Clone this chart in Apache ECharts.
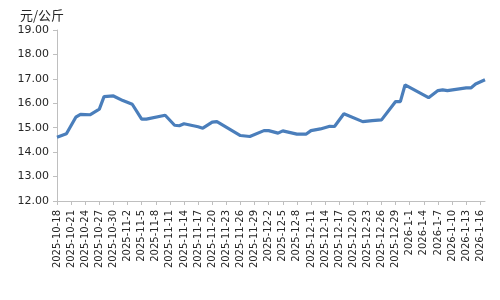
<!DOCTYPE html>
<html>
<head>
<meta charset="utf-8">
<script src="https://cdn.jsdelivr.net/npm/echarts@6/dist/echarts.min.js"></script>
<style>
  html, body { margin: 0; padding: 0; background: #fff; }
  #chart { width: 500px; height: 300px; }
</style>
</head>
<body>
<div id="chart"></div>
<script>
// every day from 2025-10-18 to 2026-1-17, label on every third day
const startDay = new Date(2025, 9, 18);
const dayCount = 92;
const days = [];
for (let i = 0; i < dayCount; i++) {
  const d = new Date(startDay.getFullYear(), startDay.getMonth(), startDay.getDate() + i);
  days.push(d.getFullYear() + "-" + (d.getMonth() + 1) + "-" + d.getDate());
}

// dates that have a price, and the price (元/公斤)
const priceDates = [
  "2025-10-18", "2025-10-20", "2025-10-22", "2025-10-23", "2025-10-25",
  "2025-10-27", "2025-10-28", "2025-10-30", "2025-11-1", "2025-11-3",
  "2025-11-5", "2025-11-6", "2025-11-10", "2025-11-12", "2025-11-13",
  "2025-11-14", "2025-11-17", "2025-11-18", "2025-11-20", "2025-11-21",
  "2025-11-26", "2025-11-28", "2025-12-1", "2025-12-2", "2025-12-4",
  "2025-12-5", "2025-12-8", "2025-12-10", "2025-12-11", "2025-12-13",
  "2025-12-15", "2025-12-16", "2025-12-18", "2025-12-22", "2025-12-24",
  "2025-12-26", "2025-12-29", "2025-12-30", "2025-12-31", "2026-1-5",
  "2026-1-7", "2026-1-8", "2026-1-9", "2026-1-13", "2026-1-14",
  "2026-1-15", "2026-1-17"
];
const prices = [
  14.61, 14.75, 15.43, 15.55, 15.53,
  15.76, 16.27, 16.30, 16.11, 15.96,
  15.35, 15.35, 15.51, 15.10, 15.08,
  15.16, 15.04, 14.98, 15.23, 15.25,
  14.68, 14.64, 14.88, 14.88, 14.78,
  14.87, 14.74, 14.74, 14.88, 14.95,
  15.06, 15.05, 15.57, 15.25, 15.29,
  15.32, 16.07, 16.07, 16.75, 16.23,
  16.52, 16.55, 16.52, 16.63, 16.63,
  16.79, 16.96
];

const unitText = "元/公斤";
const yMin = 12, yMax = 19, yStep = 1;

const textColor = "#262626";
const axisColor = "#bfbfbf";
const font = "DejaVu Sans";

const chart = echarts.init(document.getElementById("chart"));
chart.setOption({
  animation: false,
  title: {
    text: unitText,
    left: 15,
    top: 4,
    textStyle: { fontSize: 13, fontWeight: "normal", color: textColor, fontFamily: "Noto Sans CJK SC" }
  },
  grid: { left: 57, right: 15, top: 30, bottom: 99 },
  xAxis: {
    type: "category",
    data: days,
    boundaryGap: false,
    axisLine: { lineStyle: { color: axisColor, width: 1 } },
    axisTick: { interval: 2, length: 4, lineStyle: { color: axisColor } },
    axisLabel: {
      interval: 2,
      rotate: 90,
      margin: 9,
      color: textColor,
      fontSize: 10,
      fontFamily: font
    },
    splitLine: { show: false }
  },
  yAxis: {
    type: "value",
    min: yMin,
    max: yMax,
    interval: yStep,
    axisLine: { show: true, lineStyle: { color: axisColor, width: 1 } },
    axisTick: { show: true, length: 4, lineStyle: { color: axisColor } },
    axisLabel: {
      margin: 8,
      color: textColor,
      fontSize: 11,
      fontFamily: font,
      formatter: v => v.toFixed(2)
    },
    splitLine: { show: false }
  },
  series: [
    {
      type: "line",
      data: priceDates.map((d, i) => [d, prices[i]]),
      showSymbol: false,
      lineStyle: { color: "#4A7EBB", width: 3.2 },
      itemStyle: { color: "#4A7EBB" }
    }
  ]
});
</script>
</body>
</html>
